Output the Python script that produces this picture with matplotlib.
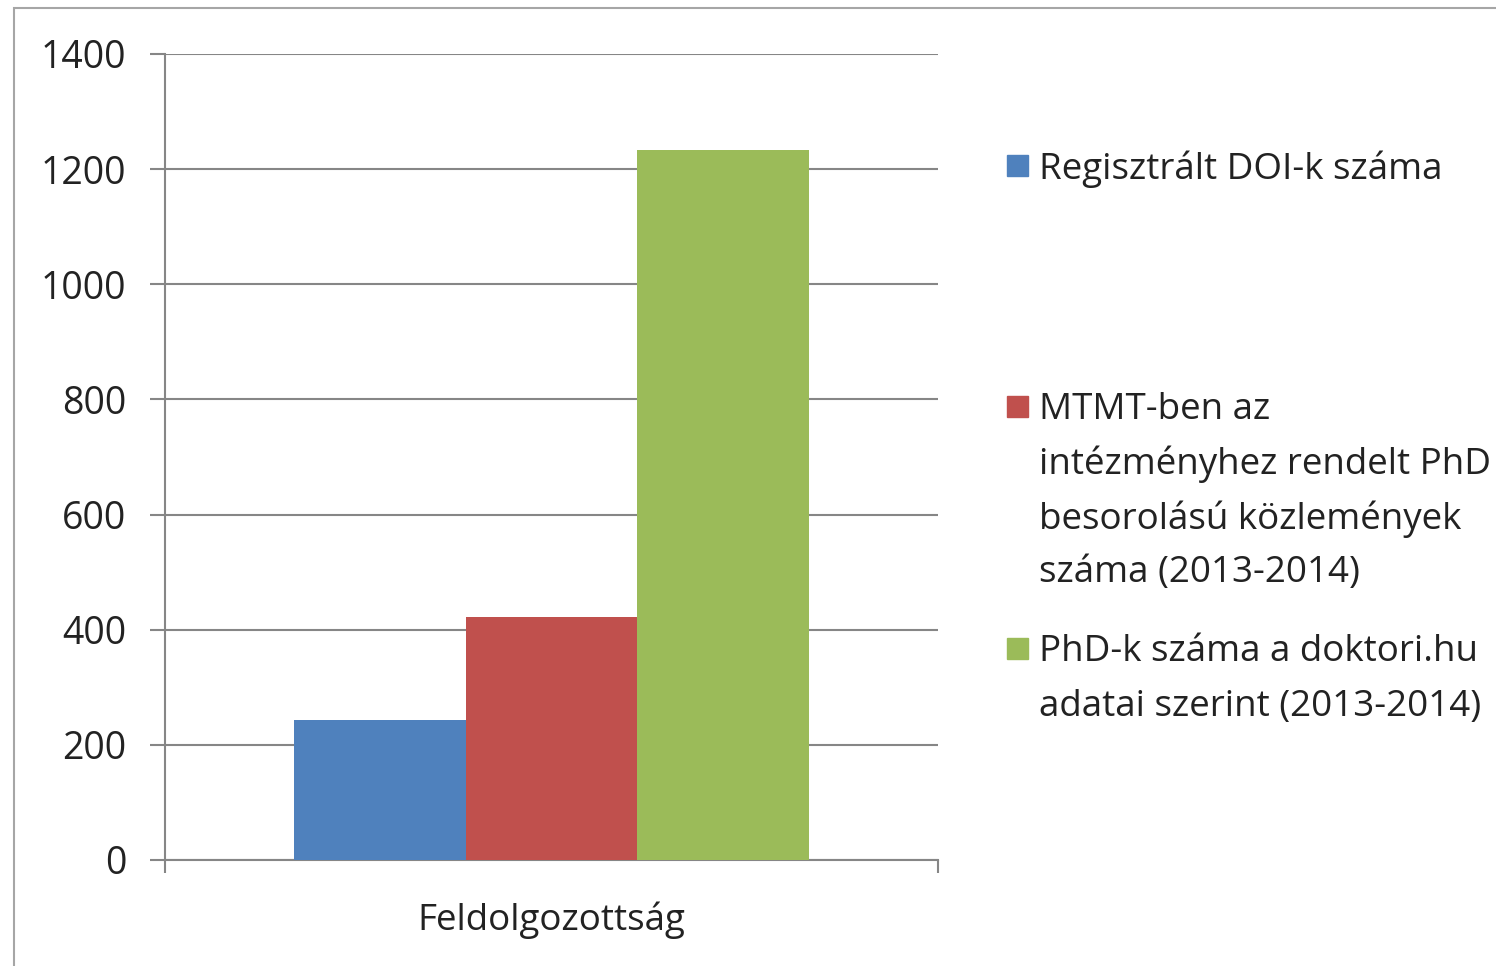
import matplotlib
matplotlib.use('Agg')
import matplotlib.pyplot as plt
from matplotlib.patches import Rectangle

# chart data
category = 'Feldolgozottság'
series_labels = [
    ['Regisztrált DOI-k száma'],
    ['MTMT-ben az', 'intézményhez rendelt PhD', 'besorolású közlemények', 'száma (2013-2014)'],
    ['PhD-k száma a doktori.hu', 'adatai szerint (2013-2014)'],
]
values = [243, 422, 1233]
colors = ['#4F81BD', '#C0504D', '#9BBB59']
yticks = [0, 200, 400, 600, 800, 1000, 1200, 1400]

plt.rcParams['font.family'] = ['Open Sans', 'DejaVu Sans']
W, H = 1496, 966
fig = plt.figure(figsize=(W / 100, H / 100), dpi=100)
ax = fig.add_axes([165 / W, 1 - 860 / H, (938 - 165) / W, (860 - 54) / H])

grid_col = '#868686'
txt_col = '#222222'
fs = 26.5
bw = 0.667 / 3
for i, (v, c) in enumerate(zip(values, colors)):
    ax.bar((i - 1) * bw, v, width=bw, color=c, zorder=3)

ax.set_xlim(-0.5, 0.5)
ax.set_ylim(0, 1400)
ax.set_yticks(yticks)
ax.set_yticklabels([str(t) for t in yticks])
ax.yaxis.grid(True, color=grid_col, linewidth=1.5, zorder=0)
ax.tick_params(axis='y', length=11, width=1.5, color=grid_col, pad=17,
               labelsize=27, labelcolor=txt_col)

ax.set_xticks([0])
ax.set_xticklabels([category])
ax.tick_params(axis='x', which='major', length=0, pad=30, labelsize=fs, labelcolor=txt_col)
ax.set_xticks([-0.5, 0.5], minor=True)
ax.tick_params(axis='x', which='minor', length=9, width=1.5, color=grid_col)

for s in ['top', 'right']:
    ax.spines[s].set_visible(False)
for s in ['left', 'bottom']:
    ax.spines[s].set_color(grid_col)
    ax.spines[s].set_linewidth(1.5)

# legend drawn by hand to keep Excel's uneven spacing
starts = [169, 410, 652]
pitch = 54.5
sq = 21
for lines, c, y0 in zip(series_labels, colors, starts):
    fig.add_artist(Rectangle((1007 / W, 1 - (y0 - 4 + sq / 2) / H), sq / W, sq / H,
                             transform=fig.transFigure, color=c))
    for k, line in enumerate(lines):
        fig.text(1039 / W, 1 - (y0 + k * pitch) / H, line, fontsize=fs,
                 color=txt_col, va='center', ha='left')

# outer frame
fig.add_artist(Rectangle((14 / W, -0.2), 1.2, 1.2 - 8 / H, transform=fig.transFigure,
                         fill=False, edgecolor='#a6a6a6', linewidth=1.5))

fig.savefig('out.png', dpi=100)
